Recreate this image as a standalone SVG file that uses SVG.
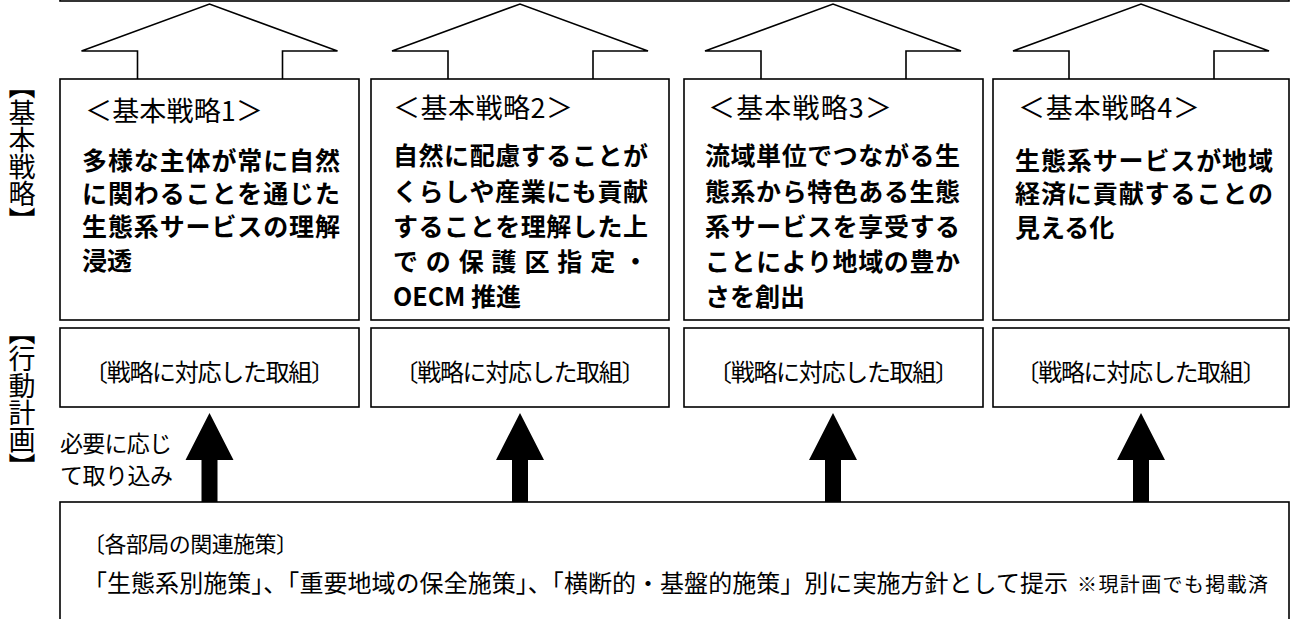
<svg xmlns="http://www.w3.org/2000/svg" width="1292" height="619" viewBox="0 0 1292 619">
<style>
.box{fill:#fff;stroke:#000;stroke-width:1.6}
.harrow{fill:#fff;stroke:#000;stroke-width:1.6;stroke-linejoin:miter}
.sarrow{fill:#000;stroke:none}
text{font-family:"Noto Sans CJK JP","Noto Sans",sans-serif;fill:#000}
.h{font-size:27px}
.b{font-size:25px;font-weight:700}
.r{font-size:24px}
.r2{font-size:22px}
.lab{font-size:23px}
.v{font-size:27px;writing-mode:vertical-rl}
.note{font-size:20px}
</style>
<rect width="1292" height="619" fill="#fff"/>
<g id="top-box"><rect class="box" x="60" y="-50" width="1229" height="51"/></g>
<g id="label-strategy"><text class="v" x="22" y="72">【基本戦略】</text></g>
<g id="label-action"><text class="v" x="22" y="318">【行動計画】</text></g>
<g id="connectors">
<path class="harrow" d="M137.5,79 V51 H81.5 L209.5,4 L337.5,51 H282.5 V79"/>
<path class="harrow" d="M448,79 V51 H392 L520,4 L648,51 H593 V79"/>
<path class="harrow" d="M761,79 V51 H705 L833,4 L961,51 H906 V79"/>
<path class="harrow" d="M1069,79 V51 H1013 L1141,4 L1269,51 H1214 V79"/>
<path class="sarrow" d="M201.5,502 V460 H185.5 L209.5,413 L233.5,460 H217.5 V502 Z"/>
<path class="sarrow" d="M512,502 V460 H496 L520,413 L544,460 H528 V502 Z"/>
<path class="sarrow" d="M825,502 V460 H809 L833,413 L857,460 H841 V502 Z"/>
<path class="sarrow" d="M1133,502 V460 H1117 L1141,413 L1165,460 H1149 V502 Z"/>
</g>
<g id="strategy1">
<rect class="box" x="60" y="79" width="299" height="241"/>
<text class="h" x="85" y="121" textLength="178">＜基本戦略1＞</text>
<text class="b" x="82" y="170" textLength="258">多様な主体が常に自然</text>
<text class="b" x="82" y="203" textLength="258">に関わることを通じた</text>
<text class="b" x="82" y="236" textLength="258">生態系サービスの理解</text>
<text class="b" x="82" y="270">浸透</text>
</g>
<g id="strategy2">
<rect class="box" x="371" y="79" width="298" height="241"/>
<text class="h" x="393" y="118" textLength="180">＜基本戦略2＞</text>
<text class="b" x="393" y="165" textLength="255">自然に配慮することが</text>
<text class="b" x="393" y="201" textLength="255">くらしや産業にも貢献</text>
<text class="b" x="393" y="236" textLength="255">することを理解した上</text>
<text class="b" x="393" y="271" textLength="255">での保護区指定・</text>
<text class="b" x="393" y="306">OECM 推進</text>
</g>
<g id="strategy3">
<rect class="box" x="684" y="79" width="299" height="241"/>
<text class="h" x="708" y="118" textLength="184">＜基本戦略3＞</text>
<text class="b" x="705" y="165" textLength="255">流域単位でつながる生</text>
<text class="b" x="705" y="201" textLength="255">態系から特色ある生態</text>
<text class="b" x="705" y="236" textLength="255">系サービスを享受する</text>
<text class="b" x="705" y="271" textLength="255">ことにより地域の豊か</text>
<text class="b" x="705" y="306">さを創出</text>
</g>
<g id="strategy4">
<rect class="box" x="993" y="79" width="296" height="241"/>
<text class="h" x="1018" y="118" textLength="182">＜基本戦略4＞</text>
<text class="b" x="1015" y="170" textLength="258">生態系サービスが地域</text>
<text class="b" x="1015" y="203" textLength="258">経済に貢献することの</text>
<text class="b" x="1015" y="237">見える化</text>
</g>
<g id="action1">
<rect class="box" x="60" y="328" width="299" height="79"/>
<text class="r" x="209.5" y="381" text-anchor="middle" textLength="251">〔戦略に対応した取組〕</text>
</g>
<g id="action2">
<rect class="box" x="371" y="328" width="298" height="79"/>
<text class="r" x="520" y="381" text-anchor="middle" textLength="251">〔戦略に対応した取組〕</text>
</g>
<g id="action3">
<rect class="box" x="684" y="328" width="299" height="79"/>
<text class="r" x="833.5" y="381" text-anchor="middle" textLength="251">〔戦略に対応した取組〕</text>
</g>
<g id="action4">
<rect class="box" x="993" y="328" width="296" height="79"/>
<text class="r" x="1141" y="381" text-anchor="middle" textLength="251">〔戦略に対応した取組〕</text>
</g>
<g id="note-label">
<text class="lab" x="60" y="452" textLength="112">必要に応じ</text>
<text class="lab" x="60" y="484" textLength="113">て取り込み</text>
</g>
<g id="policies">
<rect class="box" x="60" y="502" width="1229" height="150"/>
<text class="r2" x="83" y="552" textLength="215">〔各部局の関連施策〕</text>
<text class="r" x="83" y="592" textLength="985">「生態系別施策」、「重要地域の保全施策」、「横断的・基盤的施策」別に実施方針として提示</text>
<text class="note" x="1077" y="592" textLength="191">※現計画でも掲載済</text>
</g>
</svg>
